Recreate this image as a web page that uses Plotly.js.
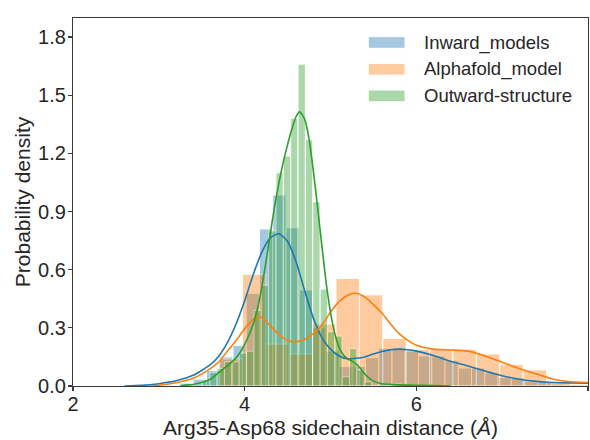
<!DOCTYPE html>
<html>
<head>
<meta charset="utf-8">
<script src="https://cdn.plot.ly/plotly-3.0.1.min.js"></script>
<style>html,body{margin:0;padding:0;background:#fff;}#chart{width:590px;height:440px;}</style>
</head>
<body>
<div id="chart"></div>
<script>
// ---- Data ----
const seriesNames = ["Inward_models", "Alphafold_model", "Outward-structure"];
const seriesColors = ["#1f77b4", "#ff7f0e", "#2ca02c"];

// Histogram bins (density): first left edge, bin width, heights
const inwardBinStart = 3.246;
const inwardBinWidth = 0.1544;
const inwardHeights = [0.015, 0.035, 0.08, 0.15, 0.21, 0.478, 0.81, 0.985, 0.816, 0.495,
  0.30, 0.18, 0.10, 0.10, 0.146, 0.195, 0.195, 0.18, 0.155, 0.155,
  0.13, 0.093, 0.093, 0.069, 0.043, 0.043, 0.022, 0.022, 0.01, 0.008, 0.005];

const alphaBinStart = 3.701;
const alphaBinWidth = 0.2726;
const alphaHeights = [0.14, 0.576, 0.216, 0.165, 0.32, 0.555, 0.47, 0.245, 0.19, 0.19,
  0.19, 0.165, 0.112, 0.083, 0.02, 0.008];

const outwardBinStart = 3.422;
const outwardBinWidth = 0.0857;
const outwardHeights = [0.01, 0.03, 0.07, 0.09, 0.125, 0.125, 0.17, 0.18, 0.39, 0.52,
  0.80, 1.10, 1.186, 1.38, 1.66, 1.27, 0.95, 0.50, 0.28, 0.258,
  0.048, 0.194, 0.083, 0.022, 0.0, 0.012, 0.0, 0.012, 0.0, 0.006, 0.0, 0.005];

// KDE curves
const inwardKdeX = [2.6, 2.8, 3.0, 3.2, 3.4, 3.6, 3.7, 3.8, 3.9, 4.0, 4.1, 4.2, 4.3, 4.4, 4.5, 4.6, 4.7, 4.8, 4.9, 5.0,
  5.1, 5.2, 5.3, 5.4, 5.5, 5.6, 5.7, 5.8, 5.9, 6.0, 6.2, 6.4, 6.6, 6.8, 7.0, 7.2, 7.4, 7.6, 7.8, 8.0];
const inwardKdeY = [0.0, 0.003, 0.012, 0.027, 0.055, 0.11, 0.155, 0.225, 0.32, 0.44, 0.575, 0.69, 0.765, 0.785, 0.745, 0.64, 0.49, 0.35, 0.25, 0.19,
  0.155, 0.14, 0.143, 0.15, 0.165, 0.178, 0.187, 0.19, 0.187, 0.18, 0.157, 0.128, 0.103, 0.077, 0.053, 0.035, 0.024, 0.018, 0.016, 0.015];

const alphaKdeX = [2.9, 3.0, 3.2, 3.4, 3.6, 3.7, 3.8, 3.9, 4.0, 4.1, 4.15, 4.2, 4.3, 4.4, 4.5, 4.6, 4.7, 4.8, 4.9, 5.0,
  5.1, 5.2, 5.3, 5.4, 5.5, 5.6, 5.7, 5.8, 5.9, 6.0, 6.2, 6.4, 6.6, 6.8, 7.0, 7.2, 7.4, 7.6, 7.8, 8.0];
const alphaKdeY = [0.0, 0.004, 0.017, 0.04, 0.09, 0.125, 0.18, 0.235, 0.295, 0.345, 0.357, 0.352, 0.31, 0.265, 0.235, 0.228, 0.24, 0.27, 0.315, 0.38,
  0.435, 0.468, 0.478, 0.458, 0.42, 0.375, 0.32, 0.27, 0.235, 0.21, 0.19, 0.186, 0.18, 0.155, 0.123, 0.09, 0.062, 0.035, 0.022, 0.018];

const outwardKdeX = [3.25, 3.3, 3.4, 3.5, 3.6, 3.7, 3.8, 3.9, 4.0, 4.1, 4.15, 4.2, 4.25, 4.3, 4.35, 4.4, 4.45, 4.5, 4.55, 4.6,
  4.64, 4.7, 4.75, 4.8, 4.85, 4.9, 4.95, 5.0, 5.05, 5.1, 5.15, 5.2, 5.25, 5.3, 5.35, 5.4, 5.45, 5.5, 5.6, 5.8, 6.0, 6.2, 6.4];
const outwardKdeY = [0.0, 0.004, 0.008, 0.018, 0.035, 0.07, 0.105, 0.145, 0.215, 0.32, 0.40, 0.51, 0.645, 0.79, 0.93, 1.05, 1.155, 1.245, 1.325, 1.39,
  1.414, 1.375, 1.275, 1.11, 0.92, 0.72, 0.53, 0.38, 0.27, 0.20, 0.16, 0.14, 0.128, 0.113, 0.09, 0.062, 0.04, 0.025, 0.012, 0.006, 0.004, 0.002, 0.0];

const xTicks = [2, 4, 6, 8];
const yTicks = [0.0, 0.3, 0.6, 0.9, 1.2, 1.5, 1.8];
const xTitle = "Arg35-Asp68 sidechain distance (<i>Å</i>)";
const yTitle = "Probability density";

// ---- Build traces (bars first, KDE lines above all bars, as in matplotlib) ----
function centers(start, width, n) {
  const c = [];
  for (let i = 0; i < n; i++) c.push(start + width * (i + 0.5));
  return c;
}
const hists = [
  [inwardBinStart, inwardBinWidth, inwardHeights],
  [alphaBinStart, alphaBinWidth, alphaHeights],
  [outwardBinStart, outwardBinWidth, outwardHeights]
];
const kdes = [[inwardKdeX, inwardKdeY], [alphaKdeX, alphaKdeY], [outwardKdeX, outwardKdeY]];

const traces = [];
hists.forEach((h, i) => {
  traces.push({
    type: "bar",
    x: centers(h[0], h[1], h[2].length),
    y: h[2],
    width: h[1],
    name: seriesNames[i],
    opacity: 0.4,
    marker: { color: seriesColors[i], line: { color: "#ffffff", width: 1 } },
    showlegend: false,
    hoverinfo: "skip"
  });
});
kdes.forEach((k, i) => {
  traces.push({
    type: "scatter",
    mode: "lines",
    x: k[0],
    y: k[1],
    line: { color: seriesColors[i], width: 1.6, shape: "spline", smoothing: 0.6 },
    showlegend: false,
    hoverinfo: "skip"
  });
});

// legend drawn as patches + text
const legendRows = [0.9334, 0.8607, 0.7883];
const shapes = [];
const annotations = [];
legendRows.forEach((yc, i) => {
  shapes.push({
    type: "rect", xref: "paper", yref: "paper",
    x0: 0.5734, x1: 0.6447, y0: yc - 0.0158, y1: yc + 0.0158,
    fillcolor: seriesColors[i], opacity: 0.4, line: { color: "#ffffff", width: 1 }
  });
  annotations.push({
    xref: "paper", yref: "paper", x: 0.677, y: yc, xanchor: "left", yanchor: "middle",
    text: seriesNames[i], showarrow: false,
    font: { size: 18.5, color: "#262626", family: "Liberation Sans, Arial, sans-serif" }
  });
});

const axisCommon = {
  showgrid: false, zeroline: false,
  showline: true, mirror: true, linecolor: "#3a3a3a", linewidth: 1.1,
  ticks: "outside", ticklen: 4, tickwidth: 1.1, tickcolor: "#3a3a3a",
  tickfont: { size: 20, color: "#262626", family: "Liberation Sans, Arial, sans-serif" }
};

const layout = {
  width: 590, height: 440,
  margin: { l: 73, r: 2, t: 18, b: 54 },
  paper_bgcolor: "#ffffff", plot_bgcolor: "#ffffff",
  barmode: "overlay",
  bargap: 0,
  font: { family: "Liberation Sans, Arial, sans-serif", color: "#262626" },
  xaxis: Object.assign({}, axisCommon, {
    range: [2, 8], tickmode: "array", tickvals: xTicks, ticktext: xTicks.map(String),
    ticklabelstandoff: -4,
    title: { text: xTitle, font: { size: 21, color: "#262626" }, standoff: 6 },
    automargin: false
  }),
  yaxis: Object.assign({}, axisCommon, {
    range: [0, 1.898], tickmode: "array", tickvals: yTicks, ticktext: yTicks.map(v => v.toFixed(1)),
    ticklabelstandoff: -2,
    title: { text: yTitle, font: { size: 21, color: "#262626" }, standoff: 1 },
    automargin: false
  }),
  shapes: shapes,
  annotations: annotations,
  showlegend: false
};

Plotly.newPlot("chart", traces, layout, { displayModeBar: false, staticPlot: true });
</script>
</body>
</html>
